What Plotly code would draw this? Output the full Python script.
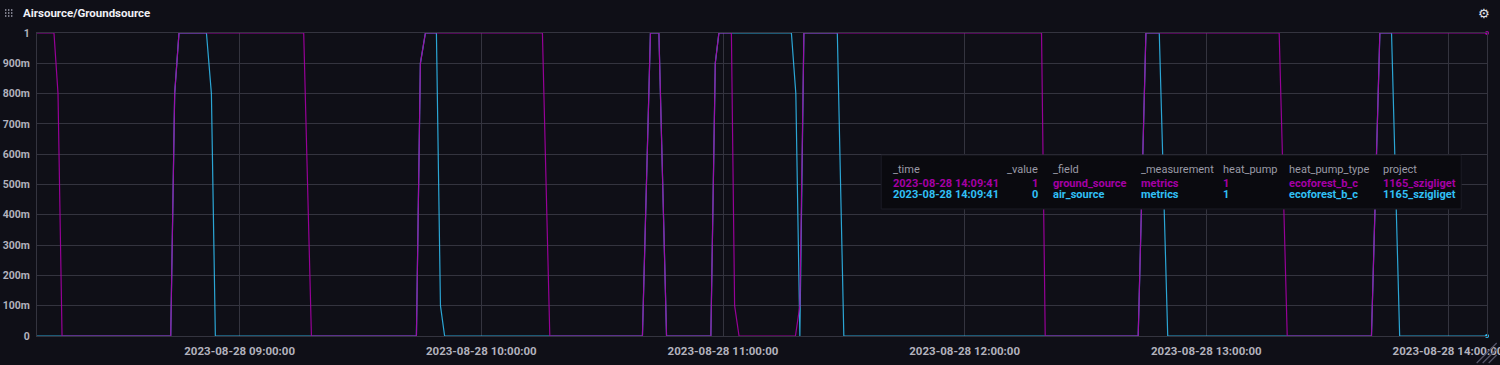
import plotly.graph_objects as go

# ---------------- data ----------------
ground_time = [
    "2023-08-28 08:09:41", "2023-08-28 08:13:54", "2023-08-28 08:14:54", "2023-08-28 08:15:54",
    "2023-08-28 08:42:53", "2023-08-28 08:43:52", "2023-08-28 08:44:56", "2023-08-28 09:15:54",
    "2023-08-28 09:17:49", "2023-08-28 09:43:53", "2023-08-28 09:44:52", "2023-08-28 09:46:07",
    "2023-08-28 10:15:10", "2023-08-28 10:17:00", "2023-08-28 10:40:00", "2023-08-28 10:41:59",
    "2023-08-28 10:44:05", "2023-08-28 10:45:59", "2023-08-28 10:56:59", "2023-08-28 10:58:05",
    "2023-08-28 10:58:59", "2023-08-28 11:02:05", "2023-08-28 11:02:53", "2023-08-28 11:03:59",
    "2023-08-28 11:17:59", "2023-08-28 11:19:05", "2023-08-28 11:20:05", "2023-08-28 12:19:05",
    "2023-08-28 12:20:00", "2023-08-28 12:43:05", "2023-08-28 12:45:00", "2023-08-28 13:18:05",
    "2023-08-28 13:20:05", "2023-08-28 13:41:00", "2023-08-28 13:43:05", "2023-08-28 14:09:41",
]
ground_value = [
    1, 1, 0.8, 0,
    0, 0.8, 1, 1,
    0, 0, 0.9, 1,
    1, 0, 0, 1,
    1, 0, 0, 0.9,
    1, 1, 0.1, 0,
    0, 0.1, 1, 1,
    0, 0, 1, 1,
    0, 0, 1, 1,
]

air_time = [
    "2023-08-28 08:09:41", "2023-08-28 08:42:53", "2023-08-28 08:43:52", "2023-08-28 08:44:56",
    "2023-08-28 08:51:45", "2023-08-28 08:52:59", "2023-08-28 08:53:58", "2023-08-28 09:43:53",
    "2023-08-28 09:44:52", "2023-08-28 09:46:07", "2023-08-28 09:48:51", "2023-08-28 09:49:51",
    "2023-08-28 09:50:53", "2023-08-28 10:40:00", "2023-08-28 10:41:59", "2023-08-28 10:44:05",
    "2023-08-28 10:45:59", "2023-08-28 10:56:59", "2023-08-28 10:58:05", "2023-08-28 10:58:59",
    "2023-08-28 11:16:59", "2023-08-28 11:18:05", "2023-08-28 11:19:05", "2023-08-28 11:20:05",
    "2023-08-28 11:28:23", "2023-08-28 11:30:00", "2023-08-28 12:43:05", "2023-08-28 12:45:00",
    "2023-08-28 12:48:19", "2023-08-28 12:50:25", "2023-08-28 13:41:00", "2023-08-28 13:43:05",
    "2023-08-28 13:45:59", "2023-08-28 13:48:00", "2023-08-28 14:09:41",
]
air_value = [
    0, 0, 0.8, 1,
    1, 0.8, 0, 0,
    0.9, 1, 1, 0.1,
    0, 0, 1, 1,
    0, 0, 0.9, 1,
    1, 0.8, 0, 1,
    1, 0, 0, 1,
    1, 0, 0, 1,
    1, 0, 0,
]

y_tick_vals = [0, 0.1, 0.2, 0.3, 0.4, 0.5, 0.6, 0.7, 0.8, 0.9, 1]
y_tick_text = ["0", "100m", "200m", "300m", "400m", "500m", "600m", "700m", "800m", "900m", "1"]

title_text = "Airsource/Groundsource"
tooltip_headers = ["_time", "_value", "_field", "_measurement", "heat_pump", "heat_pump_type", "project"]
series_meta = [
    # field, measurement, heat_pump, heat_pump_type, project
    ("ground_source", "metrics", "1", "ecoforest_b_c", "1165_szigliget"),
    ("air_source", "metrics", "1", "ecoforest_b_c", "1165_szigliget"),
]

# ---------------- style ----------------
BG = "#0f0f17"
GRID = "#34343f"
TICK = "#b2b2bd"
PURPLE = "#A500A5"
BLUE = "#31C0F6"
FONT = "Roboto"

W, H = 1500, 365
PL, PR = 37.3, 1487.3   # plot area pixel edges
PT, PB = 33, 336


def px_x(px):
    return (px - PL) / (PR - PL)


def px_y(py):
    return (PB - py) / (PB - PT)


fig = go.Figure()
fig.add_trace(go.Scatter(x=air_time, y=air_value, mode="lines",
                         line=dict(color=BLUE, width=1.2), name="air_source",
                         opacity=0.85, hoverinfo="skip"))
fig.add_trace(go.Scatter(x=ground_time, y=ground_value, mode="lines",
                         line=dict(color=PURPLE, width=1.2), name="ground_source",
                         opacity=0.9, hoverinfo="skip"))
# hover point markers (last points)
fig.add_trace(go.Scatter(x=[air_time[-1]], y=[air_value[-1]], mode="markers",
                         marker=dict(color=BLUE, size=4), hoverinfo="skip", cliponaxis=False))
fig.add_trace(go.Scatter(x=[ground_time[-1]], y=[ground_value[-1]], mode="markers",
                         marker=dict(color=PURPLE, size=4), hoverinfo="skip", cliponaxis=False))

shapes = []
annotations = []

# title
annotations.append(dict(xref="paper", yref="paper", x=px_x(21), y=px_y(13),
                        xanchor="left", yanchor="middle", showarrow=False,
                        text="<b>" + title_text + "</b>",
                        font=dict(family=FONT, size=11.5, color="#f0f0f5")))
# grip dots icon
for i in range(3):
    for j in range(3):
        cx, cy = 6 + 3 * i, 10 + 3 * j
        shapes.append(dict(type="rect", xref="paper", yref="paper",
                           x0=px_x(cx - 0.7), x1=px_x(cx + 0.7),
                           y0=px_y(cy + 0.7), y1=px_y(cy - 0.7),
                           fillcolor="#a0a0b0", line=dict(width=0)))
# gear icon
annotations.append(dict(xref="paper", yref="paper", x=px_x(1484), y=px_y(13),
                        xanchor="center", yanchor="middle", showarrow=False,
                        text="⚙", font=dict(family="DejaVu Sans", size=13, color="#e0e0e8")))
# resize handle
for k, off in enumerate([0, 6, 12]):
    shapes.append(dict(type="line", xref="paper", yref="paper",
                       x0=px_x(1497 - 20 + off), y0=px_y(363),
                       x1=px_x(1497), y1=px_y(363 - 20 + off),
                       line=dict(color="#55556a", width=1.2)))

# tooltip box
shapes.append(dict(type="rect", xref="paper", yref="paper",
                   x0=px_x(881.5), x1=px_x(1461.5), y0=px_y(209), y1=px_y(155),
                   fillcolor="#0a0a0f", line=dict(color="#1c1c26", width=1), layer="above"))
col_x = [891, 1040, 1051, 1139, 1221, 1287, 1381]
col_anchor = ["left", "right", "left", "left", "left", "left", "left"]
for h, cx, an in zip(tooltip_headers, col_x, col_anchor):
    annotations.append(dict(xref="paper", yref="paper", x=px_x(cx), y=px_y(169.5),
                            xanchor=an, yanchor="middle", showarrow=False, text=h,
                            font=dict(family=FONT, size=11, color="#9a9aa6")))
rows = [
    (ground_time[-1], ground_value[-1], series_meta[0], PURPLE, 183.8),
    (air_time[-1], air_value[-1], series_meta[1], BLUE, 194.5),
]
for t, v, meta, col, ry in rows:
    cells = [t, "%g" % v] + list(meta)
    for c, cx, an in zip(cells, col_x, col_anchor):
        annotations.append(dict(xref="paper", yref="paper", x=px_x(cx), y=px_y(ry),
                                xanchor=an, yanchor="middle", showarrow=False,
                                text="<b>" + c + "</b>",
                                font=dict(family=FONT, size=11, color=col)))

fig.update_layout(
    width=W, height=H,
    margin=dict(l=PL, r=W - PR, t=PT, b=H - PB, pad=0, autoexpand=False),
    paper_bgcolor=BG, plot_bgcolor=BG,
    showlegend=False,
    shapes=shapes, annotations=annotations,
    xaxis=dict(
        type="date", automargin=False,
        range=["2023-08-28 08:09:41", "2023-08-28 14:09:41"],
        tickformat="%Y-%m-%d %H:%M:%S",
        dtick=3600000, tick0="2023-08-28 09:00:00",
        showgrid=True, gridcolor=GRID, gridwidth=1,
        zeroline=False, showline=True, mirror=True, linecolor=GRID, linewidth=1,
        ticks="", tickfont=dict(family=FONT, size=11.5, color=TICK, weight="bold"),
        ticklabelstandoff=4, ticklabeloverflow="allow",
    ),
    yaxis=dict(
        range=[0, 1], automargin=False,
        tickvals=y_tick_vals, ticktext=y_tick_text,
        showgrid=True, gridcolor=GRID, gridwidth=1,
        zeroline=False, showline=True, mirror=True, linecolor=GRID, linewidth=1,
        ticks="", tickfont=dict(family=FONT, size=10.5, color=TICK, weight="bold"),
        ticklabelstandoff=4, ticklabeloverflow="allow",
    ),
)

fig.write_html("out.html", config={"displayModeBar": False},
               post_script="document.body.style.margin='0';document.body.style.background='%s';" % BG)
